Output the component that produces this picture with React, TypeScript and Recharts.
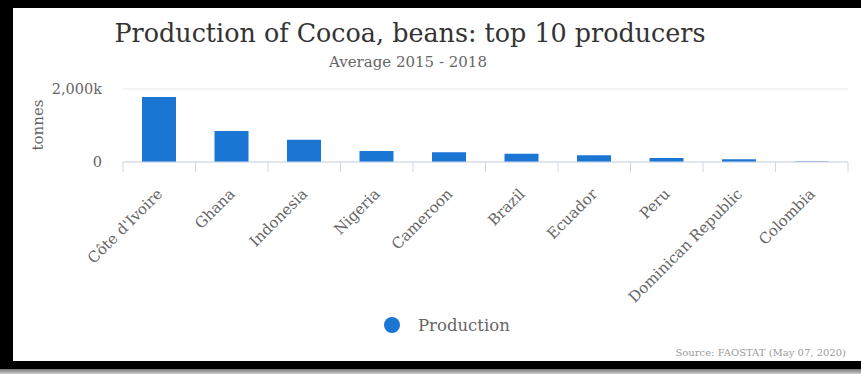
import { BarChart, Bar, XAxis, YAxis, CartesianGrid } from 'recharts';

const countries = [
  "Côte d'Ivoire",
  'Ghana',
  'Indonesia',
  'Nigeria',
  'Cameroon',
  'Brazil',
  'Ecuador',
  'Peru',
  'Dominican Republic',
  'Colombia',
];
const production = [1780000, 850000, 612000, 302000, 266000, 228000, 184000, 110000, 74000, 15000];
const yTicks = [0, 2000000];
const seriesName = 'Production';

const data = countries.map((name, i) => ({ name, production: production[i] }));

const W = 861;
const H = 374;
const PLOT_LEFT = 123;
const PLOT_RIGHT = 848;
const STEP = (PLOT_RIGHT - PLOT_LEFT) / countries.length;
const FONT = '"DejaVu Serif", serif';
const BLUE = '#1a76d2';
const AXIS = '#ccd6eb';

const fmtY = (v: number) => (v === 0 ? '0' : `${(v / 1000).toLocaleString('en-US')}k`);

function CountryTick(props: any) {
  const { x, y, payload, index } = props;
  const half = STEP / 2;
  const tx = x + 4;
  const ty = y + 33;
  return (
    <g>
      <line x1={x - half} x2={x - half} y1={y} y2={y + 10} stroke={AXIS} />
      {index === countries.length - 1 && (
        <line x1={x + half} x2={x + half} y1={y} y2={y + 10} stroke={AXIS} />
      )}
      <text
        x={tx}
        y={ty}
        transform={`rotate(-45, ${tx}, ${ty})`}
        textAnchor="end"
        fill="#666"
        fontSize={15}
        fontFamily={FONT}
      >
        {payload.value}
      </text>
    </g>
  );
}

export default function App() {
  return (
    <div style={{ position: 'absolute', left: 0, top: 0, width: W, height: H, background: '#fff', overflow: 'hidden', fontFamily: FONT }}>
      <BarChart
        width={W}
        height={H}
        data={data}
        margin={{ top: 89, right: W - PLOT_RIGHT, bottom: 62, left: 0 }}
        barSize={34}
      >
        <CartesianGrid vertical={false} stroke="#e6e6e6" />
        <XAxis
          dataKey="name"
          interval={0}
          height={150}
          tickLine={false}
          tickSize={0}
          tickMargin={0}
          axisLine={{ stroke: AXIS }}
          tick={<CountryTick />}
        />
        <YAxis
          width={PLOT_LEFT}
          domain={[0, 2000000]}
          ticks={yTicks}
          tickFormatter={fmtY}
          axisLine={false}
          tickLine={false}
          tickSize={0}
          tickMargin={21}
          tick={{ fill: '#666', fontSize: 14.5, fontFamily: FONT }}
          label={{
            content: (p: any) => {
              const cx = p.viewBox.x + 38;
              const cy = 125;
              return (
                <text
                  x={cx}
                  y={cy}
                  transform={`rotate(-90, ${cx}, ${cy})`}
                  textAnchor="middle"
                  dominantBaseline="central"
                  fill="#666"
                  fontSize={15}
                  fontFamily={FONT}
                >
                  tonnes
                </text>
              );
            },
          }}
        />
        <Bar dataKey="production" name={seriesName} fill={BLUE} isAnimationActive={false} />
      </BarChart>

      <div style={{ position: 'absolute', left: 0, width: 820, top: 21, textAlign: 'center', fontSize: 25.4, lineHeight: '25.4px', color: '#333' }}>
        Production of Cocoa, beans: top 10 producers
      </div>
      <div style={{ position: 'absolute', left: 0, width: 816, top: 55.3, textAlign: 'center', fontSize: 15, lineHeight: '15px', color: '#666' }}>
        Average 2015 - 2018
      </div>

      <div style={{ position: 'absolute', left: 384, top: 317, width: 16, height: 16, borderRadius: 8, background: BLUE }} />
      <div style={{ position: 'absolute', left: 418, top: 318, fontSize: 16.5, lineHeight: '16.5px', color: '#666' }}>
        {seriesName}
      </div>

      <div style={{ position: 'absolute', right: 15, top: 347.5, fontSize: 10, lineHeight: '10px', color: '#999' }}>
        Source: FAOSTAT (May 07, 2020)
      </div>

      <div style={{ position: 'absolute', left: 0, top: 0, width: W, height: 8, background: '#000' }} />
      <div style={{ position: 'absolute', left: 0, top: 0, width: 13, height: 369, background: '#000' }} />
      <div style={{ position: 'absolute', left: 0, top: 361, width: W, height: 8, background: '#000' }} />
      <div style={{ position: 'absolute', left: 0, top: 369, width: W, height: 5, background: 'linear-gradient(#777, #ccc)' }} />
    </div>
  );
}
